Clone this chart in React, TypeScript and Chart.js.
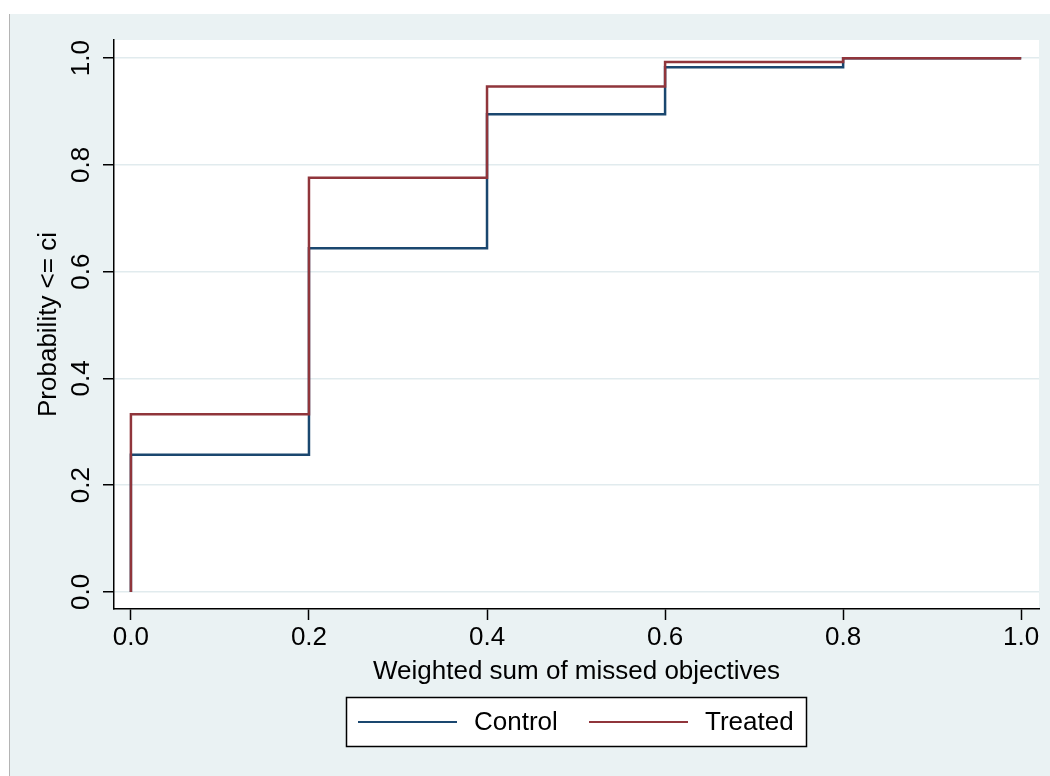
import { useEffect, useRef } from "react";
import { Chart, registerables } from "chart.js";

Chart.register(...registerables);

const xSteps = [0, 0, 0.2, 0.4, 0.6, 0.8, 1.0];
const controlValues = [0, 0.257, 0.644, 0.895, 0.983, 1.0, 1.0];
const treatedValues = [0, 0.333, 0.776, 0.947, 0.993, 1.0, 1.0];
const seriesLabels = ["Control", "Treated"];
const seriesColors = ["#1a476f", "#90353b"];
const tickValues = [0, 0.2, 0.4, 0.6, 0.8, 1.0];
const xAxisTitle = "Weighted sum of missed objectives";
const yAxisTitle = "Probability <= ci";

const FONT = '"Liberation Sans", Arial, Helvetica, sans-serif';
const PANEL = "#eaf2f3";
const GRID = "#e1ebee";

const backgroundPlugin = {
  id: "stataBackground",
  beforeDraw(chart: any) {
    const { ctx, chartArea: a, width, height } = chart;
    ctx.save();
    ctx.fillStyle = "#ffffff";
    ctx.fillRect(0, 0, width, height);
    ctx.fillStyle = PANEL;
    ctx.fillRect(9, 14, width - 9, height - 14);
    ctx.strokeStyle = "#b4b4b4";
    ctx.lineWidth = 1;
    ctx.beginPath();
    ctx.moveTo(9.5, 14);
    ctx.lineTo(9.5, height);
    ctx.stroke();
    ctx.fillStyle = "#ffffff";
    ctx.fillRect(a.left, a.top, a.right - a.left, a.bottom - a.top);
    ctx.restore();
  },
};

const legendPlugin = {
  id: "boxLegend",
  afterDraw(chart: any) {
    const { ctx } = chart;
    const boxL = 346.5, boxT = 697.5, boxW = 460, boxH = 49;
    ctx.save();
    ctx.fillStyle = "#ffffff";
    ctx.fillRect(boxL, boxT, boxW, boxH);
    ctx.strokeStyle = "#000000";
    ctx.lineWidth = 1.5;
    ctx.strokeRect(boxL, boxT, boxW, boxH);
    const cy = boxT + boxH / 2;
    const starts = [358, 589];
    chart.data.datasets.forEach((ds: any, i: number) => {
      const x0 = starts[i];
      ctx.strokeStyle = ds.borderColor;
      ctx.lineWidth = 2;
      ctx.beginPath();
      ctx.moveTo(x0, cy);
      ctx.lineTo(x0 + 99, cy);
      ctx.stroke();
      ctx.fillStyle = "#000000";
      ctx.font = `26px ${FONT}`;
      ctx.textBaseline = "middle";
      ctx.textAlign = "left";
      ctx.fillText(ds.label, x0 + 116, cy + 1);
    });
    ctx.restore();
  },
};

export default function App() {
  const ref = useRef<HTMLCanvasElement | null>(null);

  useEffect(() => {
    const canvas = ref.current;
    if (!canvas) return;
    const makeData = (vals: number[]) => xSteps.map((x, i) => ({ x, y: vals[i] }));
    const chart = new Chart(canvas, {
      type: "scatter",
      data: {
        datasets: [
          {
            label: seriesLabels[0],
            data: makeData(controlValues),
            showLine: true,
            stepped: "before",
            borderColor: seriesColors[0],
            backgroundColor: seriesColors[0],
            borderWidth: 2.5,
            pointRadius: 0,
            fill: false,
            order: 1,
          },
          {
            label: seriesLabels[1],
            data: makeData(treatedValues),
            showLine: true,
            stepped: "before",
            borderColor: seriesColors[1],
            backgroundColor: seriesColors[1],
            borderWidth: 2.5,
            pointRadius: 0,
            fill: false,
            order: 0,
          },
        ],
      },
      options: {
        responsive: false,
        animation: false,
        devicePixelRatio: 1,
        layout: { padding: { left: 0, top: 40, right: 11, bottom: 0 } },
        plugins: {
          legend: { display: false },
          tooltip: { enabled: false },
          title: { display: false },
        },
        scales: {
          x: {
            type: "linear",
            min: -0.019,
            max: 1.02,
            afterBuildTicks: (scale: any) => {
              scale.ticks = tickValues.map((v) => ({ value: v }));
            },
            afterFit: (scale: any) => {
              scale.height = 167;
            },
            grid: {
              drawOnChartArea: false,
              drawTicks: true,
              tickLength: 11,
              tickColor: "#000000",
              tickWidth: 1.5,
            },
            border: { display: true, color: "#000000", width: 1.5 },
            ticks: {
              autoSkip: false,
              maxRotation: 0,
              minRotation: 0,
              padding: 2,
              color: "#000000",
              font: { family: FONT, size: 26 },
              callback: (v: any) => Number(v).toFixed(1),
            },
            title: {
              display: true,
              text: xAxisTitle,
              color: "#000000",
              font: { family: FONT, size: 26 },
              padding: { top: 0, bottom: 89 },
            },
          },
          y: {
            type: "linear",
            min: -0.032,
            max: 1.034,
            afterBuildTicks: (scale: any) => {
              scale.ticks = tickValues.map((v) => ({ value: v }));
            },
            afterFit: (scale: any) => {
              scale.width = 114;
            },
            grid: {
              drawOnChartArea: true,
              color: GRID,
              lineWidth: 1.5,
              drawTicks: true,
              tickLength: 11,
              tickColor: "#000000",
              tickWidth: 1.5,
            },
            border: { display: true, color: "#000000", width: 1.5 },
            ticks: {
              autoSkip: false,
              minRotation: 90,
              maxRotation: 90,
              crossAlign: "center",
              padding: 3,
              color: "#000000",
              font: { family: FONT, size: 26 },
              callback: (v: any) => Number(v).toFixed(1),
            },
            title: {
              display: true,
              text: yAxisTitle,
              color: "#000000",
              font: { family: FONT, size: 26 },
              padding: { top: 33, bottom: 0 },
            },
          },
        },
      },
      plugins: [backgroundPlugin, legendPlugin],
    } as any);
    return () => chart.destroy();
  }, []);

  return (
    <div style={{ position: "absolute", left: 0, top: 0, width: 1050, height: 776 }}>
      <canvas ref={ref} width={1050} height={776} style={{ width: 1050, height: 776, display: "block" }} />
    </div>
  );
}
